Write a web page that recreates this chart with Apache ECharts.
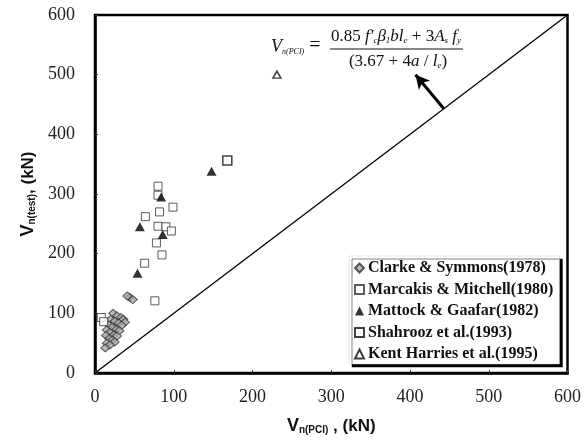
<!DOCTYPE html>
<html>
<head>
<meta charset="utf-8">
<script src="https://cdn.jsdelivr.net/npm/echarts@6/dist/echarts.min.js"></script>
<style>
  html, body { margin: 0; padding: 0; background: #fff; }
  #chart { width: 584px; height: 444px; }
</style>
</head>
<body>
<div id="chart"></div>
<script>
// Axis ticks (kN)
const axisTicks = [0, 100, 200, 300, 400, 500, 600];

// Equality line V_test = V_PCI
const equalityX = [0, 600];
const equalityY = [0, 600];

// Clarke & Symmons (1978)
const clarkeX = [44, 48, 41, 23, 28, 33, 36, 38, 20, 25, 30, 34, 18, 22, 27, 31, 15, 19, 24, 28, 14, 18, 22, 25, 15, 19, 13];
const clarkeY = [127, 123, 129, 100, 96, 93, 90, 85, 90, 87, 84, 80, 80, 77, 73, 71, 72, 68, 64, 62, 63, 58, 55, 52, 50, 47, 42];

// Marcakis & Mitchell (1980)
const marcakisX = [80, 80, 99, 82, 64, 80, 90, 97, 78, 85, 63, 76, 8, 11];
const marcakisY = [313, 298, 278, 270, 262, 246, 245, 238, 218, 198, 184, 121, 93, 86];

// Mattock & Gaafar (1982)
const mattockX = [148, 84, 57, 86, 54];
const mattockY = [338, 295, 245, 232, 167];

// Shahrooz et al. (1993)
const shahroozX = [168];
const shahroozY = [356];

// Kent Harries et al. (1995)
const kentX = [231];
const kentY = [500];

// Arrow pointing from the equality line to the equation
const arrowFrom = [443, 443];
const arrowTo = [407, 500];

const zip = (xs, ys) => xs.map((x, i) => [x, ys[i]]);

const serif = 'Liberation Serif';
const sans = 'Liberation Sans';

const chart = echarts.init(document.getElementById('chart'), null, { renderer: 'canvas' });

const axisCommon = {
  type: 'value',
  min: axisTicks[0],
  max: axisTicks[axisTicks.length - 1],
  interval: 100,
  splitLine: { show: false },
  axisLine: { show: true, onZero: false, lineStyle: { color: '#000', width: 2.5 } },
  axisTick: { show: true, inside: true, length: 3, lineStyle: { color: '#333', width: 1 } },
  axisLabel: { fontFamily: serif, fontSize: 18, color: '#222' }
};

const titleRich = {
  v: { fontFamily: sans, fontWeight: 'bold', fontSize: 18, color: '#111', lineHeight: 20, verticalAlign: 'bottom' },
  s: { fontFamily: sans, fontWeight: 'bold', fontSize: 10, color: '#111', lineHeight: 12, verticalAlign: 'bottom' },
  t: { fontFamily: sans, fontWeight: 'bold', fontSize: 17, color: '#111', lineHeight: 20, verticalAlign: 'bottom' }
};

chart.setOption({
  animation: false,
  backgroundColor: '#fff',
  grid: { left: 95, right: 14, top: 15, bottom: 71, show: true, borderColor: '#000', borderWidth: 2.5 },
  xAxis: Object.assign({}, axisCommon, {
    axisLabel: Object.assign({}, axisCommon.axisLabel, { margin: 15 }),
    name: '{v|V}{s|n(PCI)}{t| , (kN)}',
    nameLocation: 'middle',
    nameGap: 42,
    nameTextStyle: { rich: titleRich }
  }),
  yAxis: Object.assign({}, axisCommon, {
    axisLabel: Object.assign({}, axisCommon.axisLabel, { margin: 20 }),
    name: '{v|V}{s|n(test)}{t|, (kN)}',
    nameLocation: 'middle',
    nameRotate: 90,
    nameGap: 52,
    nameTextStyle: { rich: titleRich }
  }),
  legend: {
    orient: 'vertical',
    left: 349,
    top: 256,
    padding: [4, 6, 2, 5],
    itemWidth: 9,
    itemHeight: 9,
    itemGap: 5.5,
    backgroundColor: '#fff',
    borderColor: '#ccc',
    borderWidth: 0.5,
    shadowColor: '#000',
    shadowOffsetX: 3,
    shadowOffsetY: 3,
    shadowBlur: 0,
    textStyle: { fontFamily: serif, fontWeight: 'bold', fontSize: 16, lineHeight: 16, color: '#111', padding: [0, 0, 0, -1] },
    data: [
      'Clarke & Symmons(1978)',
      'Marcakis & Mitchell(1980)',
      'Mattock & Gaafar(1982)',
      'Shahrooz et al.(1993)',
      'Kent Harries et al.(1995)'
    ]
  },
  series: [
    {
      type: 'line',
      data: zip(equalityX, equalityY),
      symbol: 'none',
      lineStyle: { color: '#000', width: 1.3 },
      silent: true,
      z: 1
    },
    {
      type: 'line',
      data: [],
      markLine: {
        silent: true,
        symbol: ['none', 'arrow'],
        symbolSize: [11, 14],
        label: { show: false },
        lineStyle: { color: '#000', width: 3, type: 'solid' },
        data: [[{ coord: arrowFrom }, { coord: arrowTo }]]
      }
    },
    {
      name: 'Clarke & Symmons(1978)',
      type: 'scatter',
      symbol: 'diamond',
      symbolSize: [9, 8],
      data: zip(clarkeX, clarkeY),
      itemStyle: { color: '#a8a8a8', borderColor: '#333', borderWidth: 1 },
      z: 3
    },
    {
      name: 'Marcakis & Mitchell(1980)',
      type: 'scatter',
      symbol: 'rect',
      symbolSize: 8,
      data: zip(marcakisX, marcakisY),
      itemStyle: { color: '#fff', borderColor: '#333', borderWidth: 1 },
      z: 3
    },
    {
      name: 'Mattock & Gaafar(1982)',
      type: 'scatter',
      symbol: 'triangle',
      symbolSize: [10, 9],
      data: zip(mattockX, mattockY),
      itemStyle: { color: '#000' },
      z: 4
    },
    {
      name: 'Shahrooz et al.(1993)',
      type: 'scatter',
      symbol: 'rect',
      symbolSize: 9,
      data: zip(shahroozX, shahroozY),
      itemStyle: { color: '#fff', borderColor: '#111', borderWidth: 1.5 },
      z: 3
    },
    {
      name: 'Kent Harries et al.(1995)',
      type: 'scatter',
      symbol: 'triangle',
      symbolSize: [8, 7],
      data: zip(kentX, kentY),
      itemStyle: { color: '#fff', borderColor: '#111', borderWidth: 1.5 },
      z: 3
    }
  ],
  graphic: [
    {
      type: 'text',
      left: 271,
      top: 36,
      style: {
        text: '{v|V}{s|n(PCI)}{e| =}',
        rich: {
          v: { fontFamily: serif, fontStyle: 'italic', fontSize: 18, lineHeight: 20, verticalAlign: 'bottom', fill: '#111' },
          s: { fontFamily: serif, fontStyle: 'italic', fontSize: 8, lineHeight: 9, verticalAlign: 'bottom', fill: '#111' },
          e: { fontFamily: serif, fontSize: 20, lineHeight: 20, verticalAlign: 'bottom', fill: '#111' }
        }
      }
    },
    {
      type: 'text',
      x: 396,
      y: 35,
      style: {
        text: '{n|0.85}{i| f′}{s|c}{i|β}{s|1}{i|bl}{s|e}{n| + 3}{i|A}{s|s}{i| f}{s|y}',
        align: 'center',
        verticalAlign: 'middle',
        rich: {
          n: { fontFamily: serif, fontSize: 17, lineHeight: 20, verticalAlign: 'bottom', fill: '#111' },
          i: { fontFamily: serif, fontStyle: 'italic', fontSize: 17, lineHeight: 20, verticalAlign: 'bottom', fill: '#111' },
          s: { fontFamily: serif, fontStyle: 'italic', fontSize: 9, lineHeight: 10, verticalAlign: 'bottom', fill: '#111' }
        }
      }
    },
    {
      type: 'line',
      shape: { x1: 330, y1: 49, x2: 463, y2: 49 },
      style: { stroke: '#111', lineWidth: 1 }
    },
    {
      type: 'text',
      x: 398,
      y: 60,
      style: {
        text: '{n|(3.67 + 4}{i|a}{n| / }{i|l}{s|e}{n|)}',
        align: 'center',
        verticalAlign: 'middle',
        rich: {
          n: { fontFamily: serif, fontSize: 17, lineHeight: 20, verticalAlign: 'bottom', fill: '#111' },
          i: { fontFamily: serif, fontStyle: 'italic', fontSize: 17, lineHeight: 20, verticalAlign: 'bottom', fill: '#111' },
          s: { fontFamily: serif, fontStyle: 'italic', fontSize: 9, lineHeight: 10, verticalAlign: 'bottom', fill: '#111' }
        }
      }
    }
  ]
});
</script>
</body>
</html>
